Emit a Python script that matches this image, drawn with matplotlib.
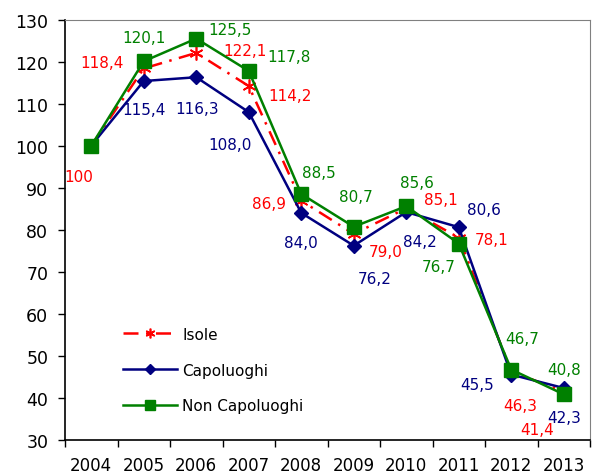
import numpy as np
import matplotlib
matplotlib.use("Agg")
from matplotlib import pyplot as plt

# dati
anni = ["2004", "2005", "2006", "2007", "2008", "2009", "2010", "2011", "2012", "2013"]
isole = [100, 118.4, 122.1, 114.2, 86.9, 79.0, 85.1, 78.1, 46.3, 41.4]
capoluoghi = [100, 115.4, 116.3, 108.0, 84.0, 76.2, 84.2, 80.6, 45.5, 42.3]
non_capoluoghi = [100, 120.1, 125.5, 117.8, 88.5, 80.7, 85.6, 76.7, 46.7, 40.8]

# posizione etichette (pixel, dx, dy verso il basso)
off_isole = [(-12, 31), (-42, -6), (49, -2), (41, 9), (-32, 3), (32, 18), (35, -9), (33, 2), (9, 34), (-27, 38)]
off_capo = [None, (0, 28), (1, 31), (-19, 32), (0, 30), (21, 33), (14, 29), (25, -18), (-34, 10), (0, 29)]
off_non = [None, (0, -24), (34, -9), (40, -14), (18, -22), (2, -30), (11, -24), (-20, 23), (11, -31), (0, -25)]

ROSSO = "#FF0000"
BLU = "#000080"
VERDE = "#008000"


def fmt(v):
    if v == 100:
        return "100"
    return ("%.1f" % v).replace(".", ",")


def etichette(ax, x, valori, offset, colore):
    for xi, v, o in zip(x, valori, offset):
        if o is None:
            continue
        ax.annotate(fmt(v), (xi, v), xytext=(o[0], -o[1]), textcoords="offset pixels",
                    ha="center", va="center", color=colore, fontsize=11)


fig = plt.figure(figsize=(5.93, 4.77), dpi=100)
ax = fig.add_axes([65 / 593, 1 - 440.7 / 477, 525 / 593, 420 / 477])

x = np.arange(len(anni))
ax.plot(x, isole, color=ROSSO, ls=(0, (6, 3, 1, 3)), lw=1.8, marker=(6, 2, 0),
        ms=10, mew=1.2, label="Isole", zorder=3)
ax.plot(x, capoluoghi, color=BLU, lw=1.8, marker="D", ms=7.5, label="Capoluoghi", zorder=4)
ax.plot(x, non_capoluoghi, color=VERDE, lw=1.8, marker="s", ms=9.5, label="Non Capoluoghi", zorder=5)

etichette(ax, x, isole, off_isole, ROSSO)
etichette(ax, x, capoluoghi, off_capo, BLU)
etichette(ax, x, non_capoluoghi, off_non, VERDE)

ax.set_xlim(-0.5, len(anni) - 0.5)
ax.set_ylim(30, 130)
ax.set_yticks(range(30, 131, 10))
ax.set_xticks(np.arange(-0.5, len(anni), 1.0))
ax.set_xticklabels([])
ax.set_xticks(x, minor=True)
ax.set_xticklabels(anni, minor=True)
ax.tick_params(axis="x", which="major", direction="out", length=5, width=1)
ax.tick_params(axis="x", which="minor", length=0, pad=12, labelsize=12)
ax.tick_params(axis="y", direction="out", length=5, width=1, pad=7, labelsize=12.5)

for s in ["top", "right"]:
    ax.spines[s].set_color("#808080")
    ax.spines[s].set_linewidth(0.8)
for s in ["left", "bottom"]:
    ax.spines[s].set_color("black")
    ax.spines[s].set_linewidth(1.2)

ax.legend(loc="upper left", bbox_to_anchor=(0.085, 0.302), frameon=False, fontsize=11,
          handlelength=3.5, labelspacing=1.37, handletextpad=0.35, markerscale=0.7)

fig.savefig("out.png", dpi=100)
